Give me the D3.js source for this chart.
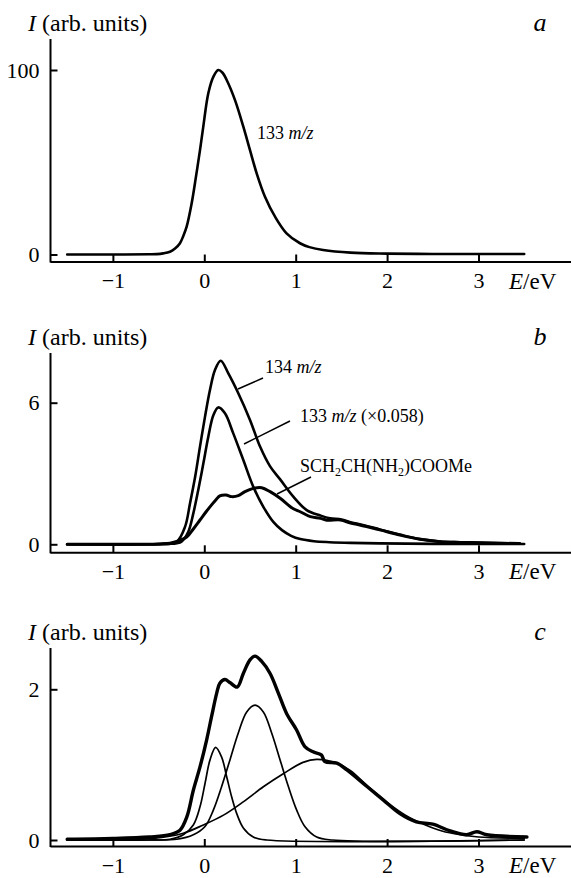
<!DOCTYPE html>
<meta charset="utf-8">
<style>
  body { margin: 0; background: #fff; }
  svg { display: block; font-family: "Liberation Serif", "Times New Roman", serif; }
  text { fill: #000; }
  .curve { fill: none; stroke: #000; stroke-linejoin: round; stroke-linecap: round; }
  .axis path, .axis line { stroke: #000; stroke-width: 2px; }
  .leader { stroke: #000; stroke-width: 1.5px; }
</style>
<body>
<svg width="571" height="878"></svg>
<script src="https://d3js.org/d3.v7.min.js"></script>
<script>
// x ticks (eV)
const energyTicks = [-1, 0, 1, 2, 3];

// panel a: 133 m/z, [E, I]
const ion133 = [[-1.5,0],[-1.0,0],[-0.6,0.1],[-0.52,0.2],[-0.45,0.6],[-0.375,1.5],[-0.32,3.2],
  [-0.266,6.1],[-0.23,10],[-0.193,15.1],[-0.138,27.8],[-0.091,42.2],[-0.047,56.6],[-0.011,69.3],
  [0.044,87.4],[0.10,96.4],[0.153,100],[0.20,98.5],[0.245,94.6],[0.336,83.7],[0.427,69.3],
  [0.5,56.6],[0.573,44],[0.664,31.3],[0.774,20.5],[0.9,11.5],[1.047,6.1],[1.15,4],[1.3,2.4],
  [1.6,1.0],[2.0,0.5],[2.5,0.3],[3.0,0.3],[3.5,0.3]];

// panel b
const ion134 = [[-1.5,0],[-0.6,0],[-0.45,0.02],[-0.3,0.12],[-0.21,0.75],[-0.156,1.74],[-0.10,2.86],
  [-0.047,4.14],[0.008,5.41],[0.062,6.54],[0.117,7.39],[0.18,7.78],[0.263,7.24],[0.372,6.4],
  [0.5,5.27],[0.61,4.14],[0.72,3.3],[0.83,2.75],[0.974,2.02],[1.12,1.45],[1.27,1.22],[1.375,1.1],
  [1.5,1.05],[1.6,0.93],[1.7,0.85],[1.92,0.63],[2.14,0.41],[2.36,0.22],[2.58,0.12],[2.8,0.09],
  [3.02,0.07],[3.45,0.04]];
const ion133Scaled = [[-1.5,0],[-0.6,0],[-0.375,0.02],[-0.3,0.05],[-0.25,0.11],[-0.175,0.53],
  [-0.12,1.31],[-0.066,2.3],[-0.01,3.43],[0.044,4.56],[0.1,5.48],[0.153,5.8],[0.226,5.55],
  [0.317,4.7],[0.427,3.57],[0.536,2.44],[0.646,1.59],[0.755,0.95],[0.85,0.6],[0.95,0.36],
  [1.05,0.22],[1.2,0.13],[1.37,0.09],[1.6,0.06],[1.92,0.04],[2.5,0.02],[3.5,0.01]];
const radical = [[-1.5,0],[-1.0,0],[-0.6,0],[-0.45,0.02],[-0.375,0.05],[-0.3,0.12],[-0.19,0.32],
  [-0.12,0.65],[-0.047,1.03],[0.02,1.38],[0.08,1.67],[0.13,1.9],[0.17,2.05],[0.237,2.09],
  [0.3,2.02],[0.372,2.06],[0.445,2.23],[0.536,2.37],[0.628,2.4],[0.72,2.23],[0.83,1.95],
  [0.97,1.52],[1.05,1.38],[1.16,1.17],[1.27,1.1],[1.34,1.02],[1.49,1.03],[1.6,0.9],[1.7,0.82],
  [1.92,0.61],[2.14,0.39],[2.36,0.21],[2.58,0.11],[2.8,0.08],[3.02,0.06],[3.45,0.03]];

// panel c: measured curve and three gaussian components
const radicalTotal = [[-1.5,0.01],[-1.0,0.02],[-0.6,0.04],[-0.375,0.07],[-0.266,0.13],[-0.19,0.31],
  [-0.12,0.66],[-0.047,0.97],[0.026,1.33],[0.08,1.64],[0.136,1.95],[0.17,2.08],[0.226,2.13],
  [0.28,2.09],[0.36,2.03],[0.427,2.21],[0.5,2.39],[0.555,2.44],[0.628,2.37],[0.72,2.21],
  [0.81,1.95],[0.9,1.68],[1.01,1.46],[1.1,1.24],[1.19,1.17],[1.28,1.13],[1.32,1.04],[1.45,1.02],
  [1.56,0.93],[1.78,0.71],[1.96,0.53],[2.14,0.35],[2.32,0.24],[2.5,0.21],[2.69,0.12],[2.87,0.07],
  [2.98,0.11],[3.09,0.07],[3.53,0.04]];
const peak1 = [[-1.5,0],[-0.6,0],[-0.375,0.01],[-0.23,0.07],[-0.12,0.2],[-0.047,0.44],[0.008,0.75],
  [0.062,1.06],[0.124,1.23],[0.19,1.1],[0.245,0.84],[0.3,0.57],[0.355,0.35],[0.427,0.16],
  [0.536,0.04],[0.68,0],[3.5,0]];
const peak2 = [[-1.5,0],[-0.6,0],[-0.3,0.01],[-0.12,0.07],[0.008,0.18],[0.1,0.4],[0.19,0.71],
  [0.28,1.06],[0.372,1.42],[0.464,1.7],[0.555,1.79],[0.646,1.7],[0.737,1.42],[0.83,1.06],
  [0.92,0.71],[1.01,0.4],[1.1,0.18],[1.23,0.04],[1.4,0],[3.5,0]];
const peak3 = [[-1.5,0],[-1.0,0.01],[-0.56,0.02],[-0.23,0.09],[-0.01,0.2],[0.21,0.33],[0.43,0.51],
  [0.65,0.71],[0.864,0.88],[1.08,1.03],[1.23,1.07],[1.45,1.02],[1.6,0.92],[1.8,0.7],[2.0,0.5],
  [2.2,0.33],[2.4,0.21],[2.6,0.12],[2.8,0.07],[3.0,0.04],[3.5,0.02]];

const svg = d3.select('svg');
const serif = '"Liberation Serif", "Times New Roman", serif';

// shared energy scale, axis line runs from x=50 to the right edge
const x = d3.scaleLinear().domain([-1.688, 4.012]).range([50, 571]);

function panel(p) {
  const g = svg.append('g');
  const y = d3.scaleLinear().domain([0, p.yTick]).range([p.y0, p.yTickPx]);

  // x axis
  g.append('g').attr('class', 'axis')
    .attr('transform', `translate(0,${p.axisY})`)
    .call(d3.axisBottom(x).tickValues(energyTicks).tickFormat(d3.format('d'))
      .tickSizeInner(-7).tickSizeOuter(0).tickPadding(11))
    .attr('font-family', serif).attr('font-size', 22);

  // y axis
  g.append('line').attr('x1', 50.5).attr('x2', 50.5).attr('y1', p.top).attr('y2', p.axisY + 1)
    .attr('stroke', '#000').attr('stroke-width', 2);
  g.append('g').attr('class', 'axis')
    .attr('transform', 'translate(50.5,0)')
    .call(d3.axisLeft(y).tickValues([0, p.yTick]).tickFormat(d3.format('d'))
      .tickSizeInner(-7).tickSizeOuter(0).tickPadding(11))
    .call(a => a.select('.domain').remove())
    .attr('font-family', serif).attr('font-size', 22);

  // labels
  const t = g.append('text').attr('x', 28).attr('y', p.top - 8).attr('font-size', 24);
  t.append('tspan').attr('font-style', 'italic').text('I');
  t.append('tspan').text(' (arb. units)');
  g.append('text').attr('x', 540).attr('y', p.top - 8).attr('text-anchor', 'middle')
    .attr('font-size', 26).attr('font-style', 'italic').text(p.letter);
  const e = g.append('text').attr('x', 509).attr('y', p.axisY + 27).attr('font-size', 23);
  e.append('tspan').attr('font-style', 'italic').text('E');
  e.append('tspan').text('/eV');

  const line = d3.line().x(d => x(d[0])).y(d => y(d[1])).curve(d3.curveCatmullRom.alpha(0.5));
  p.series.forEach(s => {
    g.append('path').attr('class', 'curve').attr('d', line(s.data)).attr('stroke-width', s.w);
  });
  return { g, y };
}

function mz(g, xx, yy, num, extra) {
  const t = g.append('text').attr('x', xx).attr('y', yy).attr('font-size', 18);
  t.append('tspan').text(num + ' ');
  t.append('tspan').attr('font-style', 'italic').text('m/z');
  if (extra) t.append('tspan').text(' ' + extra);
}

// panel a
const pa = panel({ letter: 'a', top: 39, axisY: 261.5, y0: 254.5, yTick: 100, yTickPx: 70,
  series: [{ data: ion133, w: 2.6 }] });
mz(pa.g, 257, 139, '133');

// panel b
const pb = panel({ letter: 'b', top: 353, axisY: 552.3, y0: 544.3, yTick: 6, yTickPx: 402.7,
  series: [{ data: ion134, w: 2.6 }, { data: ion133Scaled, w: 2.6 }, { data: radical, w: 3 }] });
mz(pb.g, 265, 373, '134');
mz(pb.g, 300, 422, '133', '(×0.058)');
const sch = pb.g.append('text').attr('x', 300).attr('y', 472).attr('font-size', 18);
sch.append('tspan').text('SCH');
sch.append('tspan').attr('font-size', 12).attr('dy', 4).text('2');
sch.append('tspan').attr('dy', -4).text('CH(NH');
sch.append('tspan').attr('font-size', 12).attr('dy', 4).text('2');
sch.append('tspan').attr('dy', -4).text(')COOMe');
[[238, 389, 263, 378], [244, 444, 290, 421], [277, 494, 311, 477]].forEach(l => {
  pb.g.append('line').attr('class', 'leader')
    .attr('x1', l[0]).attr('y1', l[1]).attr('x2', l[2]).attr('y2', l[3]);
});

// panel c
panel({ letter: 'c', top: 648, axisY: 846, y0: 840, yTick: 2, yTickPx: 689.3,
  series: [{ data: peak1, w: 1.7 }, { data: peak2, w: 1.7 }, { data: peak3, w: 1.7 },
           { data: radicalTotal, w: 3.4 }] });
</script>
</body>
